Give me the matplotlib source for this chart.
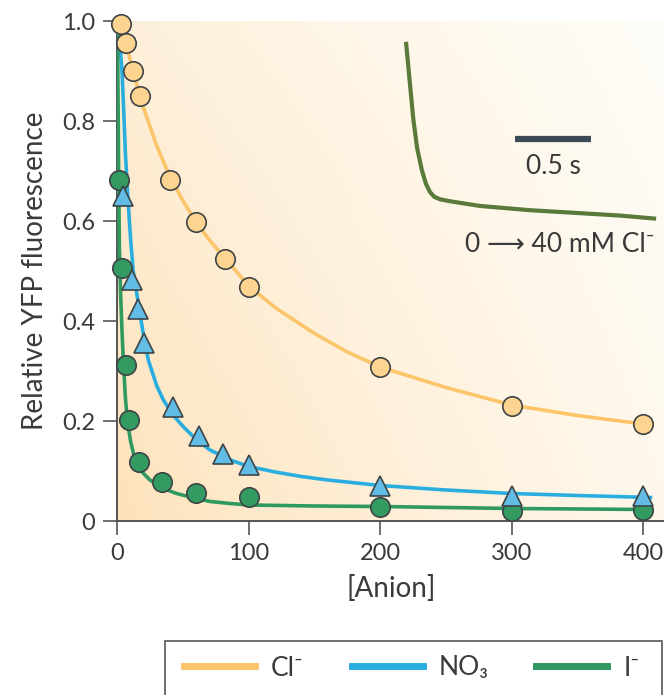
"""
Relative YFP fluorescence vs anion concentration (Cl-, NO3-, I-), with inset trace.
"""
import numpy as np
import matplotlib
matplotlib.use("Agg")
import matplotlib.pyplot as plt
from matplotlib.lines import Line2D
from matplotlib.patches import Rectangle

plt.rcParams["font.family"] = ["Lato", "DejaVu Sans"]

# measured points
cl_x = [3, 6.5, 12, 17, 40, 60, 82, 100, 200, 300, 400]
cl_y = [0.995, 0.956, 0.90, 0.85, 0.683, 0.598, 0.525, 0.469, 0.308, 0.231, 0.195]
no3_x = [4.5, 11, 16, 20.5, 42, 62, 80, 100, 200, 300, 400]
no3_y = [0.65, 0.483, 0.425, 0.357, 0.229, 0.17, 0.134, 0.112, 0.071, 0.051, 0.05]
i_x = [1, 3.3, 6.3, 9.1, 16.4, 33.7, 60, 100, 200, 300, 400]
i_y = [0.683, 0.507, 0.312, 0.202, 0.119, 0.079, 0.057, 0.049, 0.029, 0.021, 0.022]

# fitted curves
cl_fit_x = [0, 3, 6.5, 12, 17, 22, 30, 40, 50, 60, 70, 82, 100, 120, 150, 175, 200, 250, 300, 350, 400]
cl_fit_y = [1.0, 0.99, 0.955, 0.90, 0.85, 0.81, 0.75, 0.688, 0.64, 0.598, 0.562, 0.525, 0.47, 0.427,
            0.375, 0.338, 0.308, 0.267, 0.232, 0.211, 0.194]
no3_fit_x = [0, 2, 3.5, 4.5, 6, 8, 10, 12, 16.7, 20, 23.5, 30, 35, 42, 50, 60, 70.5, 86, 100, 120,
             140, 160, 200, 250, 300, 350, 407]
no3_fit_y = [1.0, 0.95, 0.9, 0.84, 0.74, 0.645, 0.565, 0.5, 0.422, 0.37, 0.322, 0.27, 0.242, 0.213,
             0.189, 0.163, 0.142, 0.122, 0.109, 0.098, 0.089, 0.082, 0.071, 0.062, 0.055, 0.051, 0.047]
i_fit_x = [0, 0.5, 1, 1.5, 2.5, 3.5, 4.5, 6, 7.5, 10, 13.4, 18, 24.8, 35, 45, 60, 70.5, 86, 100,
           150, 200, 300, 405]
i_fit_y = [1.0, 0.85, 0.68, 0.55, 0.45, 0.38, 0.322, 0.25, 0.202, 0.16, 0.122, 0.1, 0.082, 0.065,
           0.055, 0.045, 0.039, 0.035, 0.032, 0.03, 0.029, 0.025, 0.023]

# inset stopped-flow trace (time in s, arbitrary fluorescence)
trace_t = [0, 0.027, 0.05, 0.075, 0.107, 0.135, 0.162, 0.19, 0.23, 0.3, 0.5, 0.838, 1.176, 1.446, 1.69]
trace_f = [0.99, 0.76, 0.568, 0.417, 0.297, 0.222, 0.178, 0.153, 0.139, 0.128, 0.103, 0.08, 0.064,
           0.051, 0.034]

labels = ["Cl\u207b", "NO\u2083", "I\u207b"]
x_ticks = [0, 100, 200, 300, 400]
y_ticks = [0, 0.2, 0.4, 0.6, 0.8, 1.0]
y_ticklabels = ["0", "0.2", "0.4", "0.6", "0.8", "1.0"]

ORANGE = "#fcc56a"
ORANGE_FACE = "#fdd490"
BLUE = "#2aaee0"
BLUE_FACE = "#62bde6"
GREEN = "#2f9a5f"
GREEN_FACE = "#339b62"
EDGE = "#3f4447"
TEXT = "#3a3a3a"
SPINE = "#555555"


def main():
    W, H = 664, 695
    fig = plt.figure(figsize=(W / 100, H / 100), dpi=100)
    ax = fig.add_axes([117.4 / W, 1 - 521 / H, (W - 117.4) / W, 500 / H])

    # background gradient
    tl = np.array([253, 239, 216]) / 255
    bl = np.array([253, 226, 186]) / 255
    tr = np.array([255, 253, 248]) / 255
    br = np.array([255, 248, 236]) / 255
    u = np.linspace(0, 1, 200)[None, :, None] ** 0.8
    v = np.linspace(0, 1, 200)[:, None, None]
    grad = (1 - v) * ((1 - u) * bl + u * br) + v * ((1 - u) * tl + u * tr)
    ax.imshow(grad, extent=[0, 1, 0, 1], transform=ax.transAxes, origin="lower",
              aspect="auto", zorder=0, interpolation="bilinear")

    ax.plot(cl_fit_x, cl_fit_y, color=ORANGE, lw=2.6, zorder=2, solid_capstyle="butt")
    ax.plot(no3_fit_x, no3_fit_y, color=BLUE, lw=2.6, zorder=2, solid_capstyle="butt")
    ax.plot(i_fit_x, i_fit_y, color=GREEN, lw=2.6, zorder=2, solid_capstyle="butt")

    ax.plot(cl_x, cl_y, "o", ms=14, mfc=ORANGE_FACE, mec=EDGE, mew=1.2, zorder=3, clip_on=False)
    ax.plot(i_x, i_y, "o", ms=14, mfc=GREEN_FACE, mec=EDGE, mew=1.2, zorder=4, clip_on=False)
    ax.plot(no3_x, no3_y, "^", ms=14, mfc=BLUE_FACE, mec=EDGE, mew=1.2, zorder=5, clip_on=False)

    ax.set_xlim(0, 416)
    ax.set_ylim(0, 1.0)
    ax.set_xticks(x_ticks)
    ax.set_yticks(y_ticks)
    ax.set_yticklabels(y_ticklabels)
    for s in ["top", "right"]:
        ax.spines[s].set_visible(False)
    for s in ["left", "bottom"]:
        ax.spines[s].set_color(SPINE)
        ax.spines[s].set_linewidth(1.4)
        ax.spines[s].set_zorder(1)
    ax.tick_params(length=10, width=1.2, color=SPINE, labelsize=17, labelcolor=TEXT, pad=6)
    ax.set_xlabel("[Anion]", fontsize=20, color=TEXT, labelpad=8)
    ax.set_ylabel("Relative YFP fluorescence", fontsize=20, color=TEXT, labelpad=10)

    # inset trace
    ins = fig.add_axes([400 / W, 1 - 230 / H, 264 / W, 200 / H])
    ins.set_xlim(-6 / 148, 258 / 148)
    ins.set_ylim(-0.027, 1.054)
    ins.axis("off")
    ins.plot(trace_t, trace_f, color="#5a7a3a", lw=3, solid_capstyle="butt")
    ins.plot([0.736, 1.25], [0.463, 0.463], color="#3b4a55", lw=4.5, solid_capstyle="butt")
    ins.text(0.993, 0.315, "0.5 s", ha="center", va="center", fontsize=19, color=TEXT)
    fig.text(655 / W, 1 - 244 / H, "0 \u27f6 40 mM Cl\u207b", ha="right", va="center",
             fontsize=19, color=TEXT)

    # legend box (bottom edge runs off the figure)
    fig.patches.append(Rectangle((165 / W, -0.1), (662 - 165) / W, 0.1 + (1 - 641 / H),
                                 transform=fig.transFigure, fill=False, ec=SPINE, lw=1.2))
    handles = [Line2D([], [], color=c, lw=5) for c in (ORANGE, BLUE, GREEN)]
    fig.legend(handles, labels, ncol=3, loc="center", bbox_to_anchor=(0.62, 1 - 668 / H),
               frameon=False, fontsize=19, handlelength=2.7, handletextpad=0.6,
               columnspacing=1.8, labelcolor=TEXT)

    fig.savefig("out.png", dpi=100)


if __name__ == "__main__":
    main()
